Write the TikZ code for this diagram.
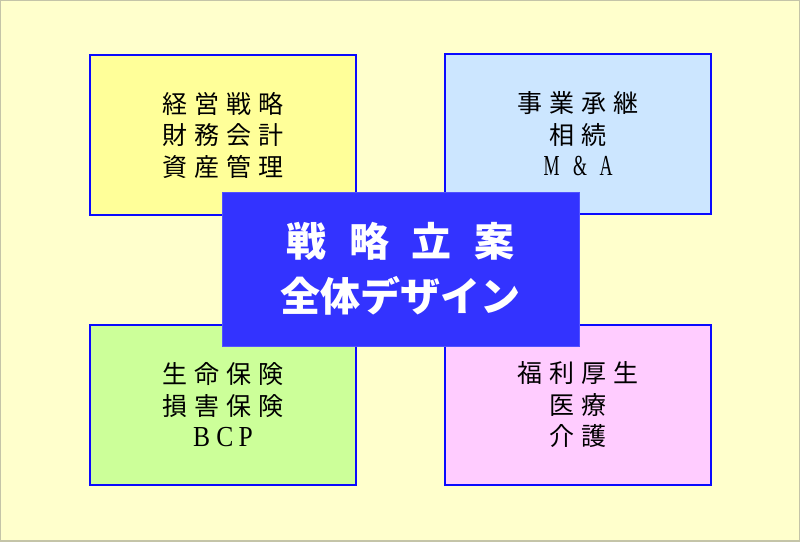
\documentclass[tikz,border=0pt]{standalone}
\usepackage{fontspec}
\setmainfont{Noto Sans CJK JP}
\newfontfamily\jpbox[LetterSpace=28]{Noto Sans CJK JP}
\newfontfamily\jpwide[LetterSpace=57]{Noto Sans CJK JP}
\newfontfamily\latbox{Liberation Serif}
\definecolor{paper}{HTML}{FFFFCC}
\definecolor{frameline}{HTML}{C4C4A8}
\definecolor{boxline}{HTML}{0A0AFF}
\definecolor{fillmgmt}{HTML}{FFFF99}
\definecolor{fillsucc}{HTML}{CCE6FF}
\definecolor{fillins}{HTML}{CCFF99}
\definecolor{fillwelf}{HTML}{FFCCFF}
\definecolor{corefill}{HTML}{3333FF}
\newcommand\gap[1]{\hspace*{#1pt}}
\newcommand\latline[2]{\scalebox{#1}[1]{\latbox\fontsize{29}{31.5}\selectfont #2}}

\begin{document}
\begin{tikzpicture}[x=1pt, y=-1pt,
    area/.style={draw=boxline, line width=2.5pt, minimum width=266pt, minimum height=160pt,
        align=center, inner sep=0pt, font=\jpbox\fontsize{25}{31.5}\selectfont},
    core/.style={fill=corefill, draw=corefill!85!white, line width=0.8pt, minimum width=357pt,
        minimum height=154pt, align=center, inner sep=0pt, text=white,
        font=\bfseries\fontsize{40}{55}\selectfont}]
        \useasboundingbox (0,0) rectangle (800,541);
        \fill [paper] (0,0) rectangle (800,541);
        \draw [frameline, line width=1.5pt] (0,0) rectangle (800,541);
        % four fields
        \node [area, fill=fillmgmt] (mgmt) at (223,135) {経営戦略\\財務会計\\資産管理};
        \node [area, fill=fillsucc] (succ) at (578,134) {事業承継\\相続\\\latline{0.62}{M\gap{22}\&\gap{20}A}};
        \node [area, fill=fillins] (ins) at (223,405) {生命保険\\損害保険\\\latline{0.88}{B\gap{7}C\gap{6}P}};
        \node [area, fill=fillwelf] (welf) at (578,405) {福利厚生\\医療\\介護};
        % centre
        \node [core] (plan) at (400.5,269) {{\jpwide 戦略立案}\\全体デザイン};
    \end{tikzpicture}
\end{document}
